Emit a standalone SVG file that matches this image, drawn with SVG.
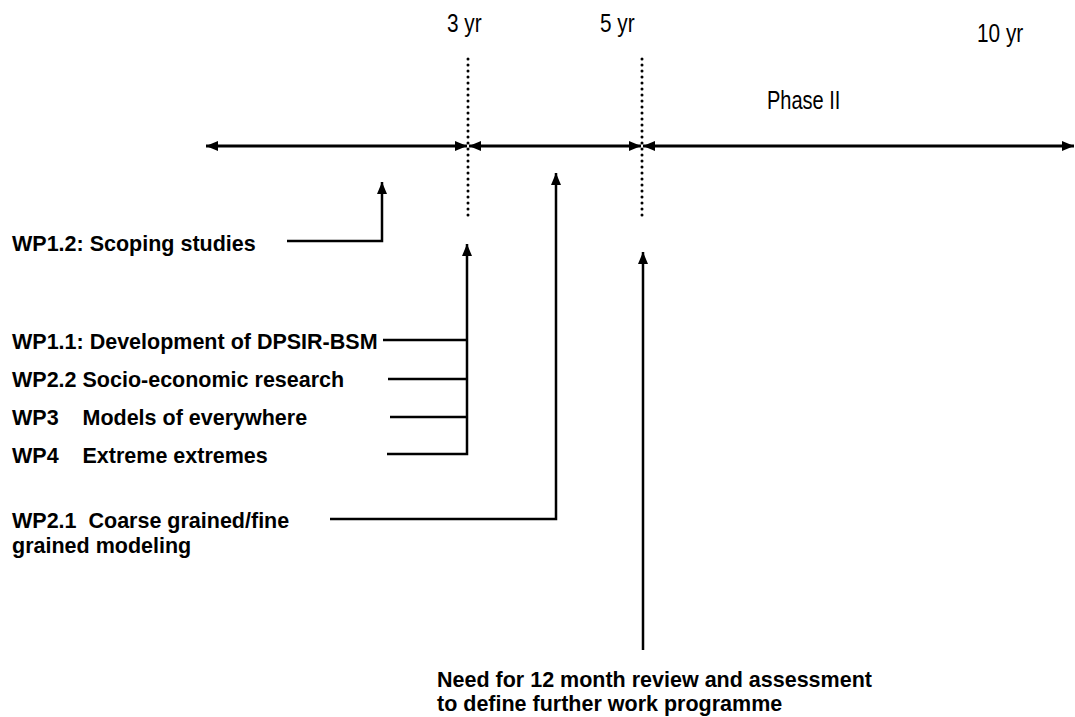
<svg xmlns="http://www.w3.org/2000/svg" width="1075" height="717" viewBox="0 0 1075 717">
<defs>
<marker id="ah" viewBox="0 0 12 10" refX="12" refY="5" markerWidth="12" markerHeight="10" markerUnits="userSpaceOnUse" orient="auto-start-reverse">
<path d="M0,0 L12,5 L0,10 Z" fill="#000"/>
</marker>
</defs>
<style>
.t{font-family:"Liberation Sans",Arial,sans-serif;font-size:26px;fill:#000}
.b{font-family:"Liberation Sans",Arial,sans-serif;font-size:21.5px;font-weight:bold;fill:#000}
.tl{stroke:#000;stroke-width:3;fill:none}
.c{stroke:#000;stroke-width:2.5;fill:none}
.d{stroke:#000;stroke-width:3;stroke-dasharray:0 6;stroke-linecap:round;fill:none}
</style>
<rect width="1075" height="717" fill="#fff"/>
<g id="labels-time">
<text class="t" transform="translate(447,32) scale(0.8,1)">3 yr</text>
<text class="t" transform="translate(600,32) scale(0.8,1)">5 yr</text>
<text class="t" transform="translate(977,42) scale(0.8,1)">10 yr</text>
<text class="t" transform="translate(767,109) scale(0.77,1)">Phase II</text>
</g>
<g id="timeline">
<line class="tl" x1="206" y1="146" x2="467" y2="146" marker-start="url(#ah)" marker-end="url(#ah)"/>
<line class="tl" x1="469" y1="146" x2="641" y2="146" marker-start="url(#ah)" marker-end="url(#ah)"/>
<line class="tl" x1="643" y1="146" x2="1074" y2="146" marker-start="url(#ah)" marker-end="url(#ah)"/>
<line class="d" x1="468" y1="59" x2="468" y2="221"/>
<line class="d" x1="642" y1="59" x2="642" y2="221"/>
</g>
<g id="node-wp12"><text class="b" x="12" y="251">WP1.2: Scoping studies</text></g>
<g id="node-wp11"><text class="b" x="12" y="349">WP1.1: Development of DPSIR-BSM</text></g>
<g id="node-wp22"><text class="b" x="12" y="387">WP2.2 Socio-economic research</text></g>
<g id="node-wp3"><text class="b" x="12" y="425" xml:space="preserve">WP3    Models of everywhere</text></g>
<g id="node-wp4"><text class="b" x="12" y="463" xml:space="preserve">WP4    Extreme extremes</text></g>
<g id="node-wp21"><text class="b" x="12" y="528" xml:space="preserve">WP2.1  Coarse grained/fine</text><text class="b" x="12" y="553">grained modeling</text></g>
<g id="node-review"><text class="b" x="437" y="687">Need for 12 month review and assessment</text><text class="b" x="437" y="711">to define further work programme</text></g>
<g id="connectors">
<polyline class="c" points="287,241 382,241 382,182" marker-end="url(#ah)"/>
<polyline class="c" points="383,340 467,340"/>
<polyline class="c" points="388,379 467,379"/>
<polyline class="c" points="390,417 467,417"/>
<polyline class="c" points="387,454 467,454 467,244" marker-end="url(#ah)"/>
<polyline class="c" points="330,519 556,519 556,173" marker-end="url(#ah)"/>
<line class="c" x1="643" y1="650" x2="643" y2="252" marker-end="url(#ah)"/>
</g>
</svg>
